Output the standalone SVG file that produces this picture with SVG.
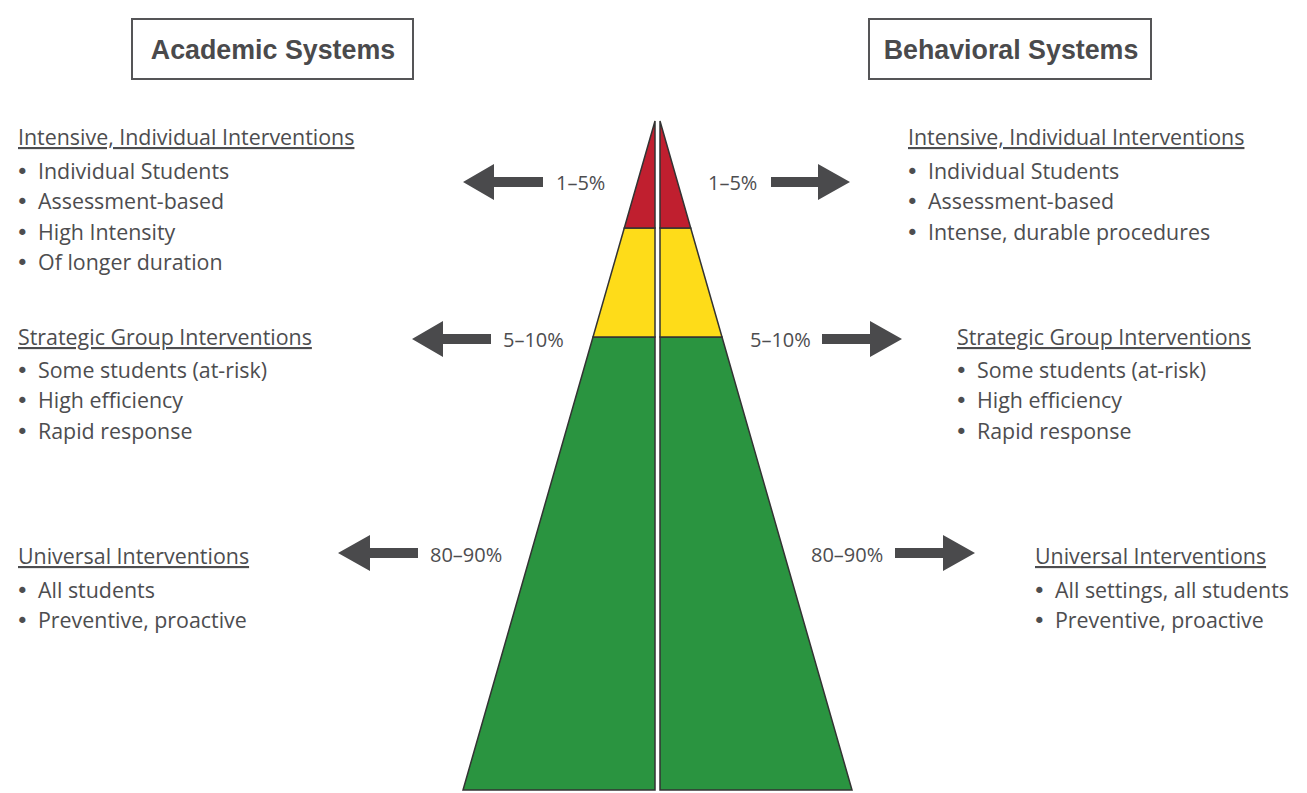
<svg xmlns="http://www.w3.org/2000/svg" width="1307" height="793" viewBox="0 0 1307 793">
<style>
  .t { font-family: "Open Sans", "Liberation Sans", sans-serif; font-size: 21.4px; fill: #4d4d4f; }
  .b { font-family: "DejaVu Sans", sans-serif; font-size: 21.4px; }
  .h { text-decoration: underline; }
  .pct { font-family: "Open Sans", "Liberation Sans", sans-serif; font-size: 20px; fill: #4d4d4f; }
  .title { font-family: "Liberation Sans", Arial, sans-serif; font-weight: bold; font-size: 26.8px; fill: #4a4a4c; text-anchor: middle; }
  .box { fill: #ffffff; stroke: #555557; stroke-width: 2; }
  .arrow { fill: #4a4a4c; }
  .seg { stroke: #333333; stroke-width: 1.5; stroke-linejoin: miter; }
  .red { fill: #c01f2f; }
  .yel { fill: #fedc19; }
  .grn { fill: #2a9440; }
</style>
<rect width="1307" height="793" fill="#ffffff"/>

<g id="academic-title">
  <rect class="box" x="132" y="19" width="281" height="60"/>
  <text class="title" x="273" y="59">Academic Systems</text>
</g>
<g id="behavioral-title">
  <rect class="box" x="869" y="19" width="282" height="60"/>
  <text class="title" x="1011" y="59">Behavioral Systems</text>
</g>

<g id="pyramid">
  <g id="pyramid-left">
    <polygon class="seg grn" points="593,337 463,790 655,790 655,337"/>
    <polygon class="seg yel" points="624.3,228 593,337 655,337 655,228"/>
    <polygon class="seg red" points="655,121 624.3,228 655,228"/>
  </g>
  <g id="pyramid-right">
    <polygon class="seg grn" points="722,337 852,790 660,790 660,337"/>
    <polygon class="seg yel" points="690.7,228 722,337 660,337 660,228"/>
    <polygon class="seg red" points="660,121 690.7,228 660,228"/>
  </g>
</g>

<g id="connectors">
  <polygon class="arrow" points="463,182 494,164 494,177 543,177 543,187 494,187 494,200"/>
  <polygon class="arrow" points="412,339 443,321 443,334 491,334 491,344 443,344 443,357"/>
  <polygon class="arrow" points="338,553 370,535 370,548 418,548 418,558 370,558 370,571"/>
  <polygon class="arrow" points="850,182 818,164 818,177 771,177 771,187 818,187 818,200"/>
  <polygon class="arrow" points="902,339 870,321 870,334 822,334 822,344 870,344 870,357"/>
  <polygon class="arrow" points="975,553 943,535 943,548 895,548 895,558 943,558 943,571"/>
</g>

<g id="labels-pct">
  <text class="pct" x="556" y="190">1–5%</text>
  <text class="pct" x="503" y="347">5–10%</text>
  <text class="pct" x="430" y="562">80–90%</text>
  <text class="pct" x="708" y="190">1–5%</text>
  <text class="pct" x="750" y="347">5–10%</text>
  <text class="pct" x="811" y="562">80–90%</text>
</g>

<g id="academic-intensive">
  <text class="t h" x="18" y="145">Intensive, Individual Interventions</text>
  <text class="t"><tspan class="b" x="16" y="179">•</tspan><tspan x="38" y="179">Individual Students</tspan></text>
  <text class="t"><tspan class="b" x="16" y="209">•</tspan><tspan x="38" y="209">Assessment-based</tspan></text>
  <text class="t"><tspan class="b" x="16" y="240">•</tspan><tspan x="38" y="240">High Intensity</tspan></text>
  <text class="t"><tspan class="b" x="16" y="270">•</tspan><tspan x="38" y="270">Of longer duration</tspan></text>
</g>
<g id="academic-strategic">
  <text class="t h" x="18" y="345">Strategic Group Interventions</text>
  <text class="t"><tspan class="b" x="16" y="378">•</tspan><tspan x="38" y="378">Some students (at-risk)</tspan></text>
  <text class="t"><tspan class="b" x="16" y="408">•</tspan><tspan x="38" y="408">High efficiency</tspan></text>
  <text class="t"><tspan class="b" x="16" y="439">•</tspan><tspan x="38" y="439">Rapid response</tspan></text>
</g>
<g id="academic-universal">
  <text class="t h" x="18" y="564">Universal Interventions</text>
  <text class="t"><tspan class="b" x="16" y="598">•</tspan><tspan x="38" y="598">All students</tspan></text>
  <text class="t"><tspan class="b" x="16" y="628">•</tspan><tspan x="38" y="628">Preventive, proactive</tspan></text>
</g>

<g id="behavioral-intensive">
  <text class="t h" x="908" y="145">Intensive, Individual Interventions</text>
  <text class="t"><tspan class="b" x="906" y="179">•</tspan><tspan x="928" y="179">Individual Students</tspan></text>
  <text class="t"><tspan class="b" x="906" y="209">•</tspan><tspan x="928" y="209">Assessment-based</tspan></text>
  <text class="t"><tspan class="b" x="906" y="240">•</tspan><tspan x="928" y="240">Intense, durable procedures</tspan></text>
</g>
<g id="behavioral-strategic">
  <text class="t h" x="957" y="345">Strategic Group Interventions</text>
  <text class="t"><tspan class="b" x="955" y="378">•</tspan><tspan x="977" y="378">Some students (at-risk)</tspan></text>
  <text class="t"><tspan class="b" x="955" y="408">•</tspan><tspan x="977" y="408">High efficiency</tspan></text>
  <text class="t"><tspan class="b" x="955" y="439">•</tspan><tspan x="977" y="439">Rapid response</tspan></text>
</g>
<g id="behavioral-universal">
  <text class="t h" x="1035" y="564">Universal Interventions</text>
  <text class="t"><tspan class="b" x="1033" y="598">•</tspan><tspan x="1055" y="598">All settings, all students</tspan></text>
  <text class="t"><tspan class="b" x="1033" y="628">•</tspan><tspan x="1055" y="628">Preventive, proactive</tspan></text>
</g>
</svg>
